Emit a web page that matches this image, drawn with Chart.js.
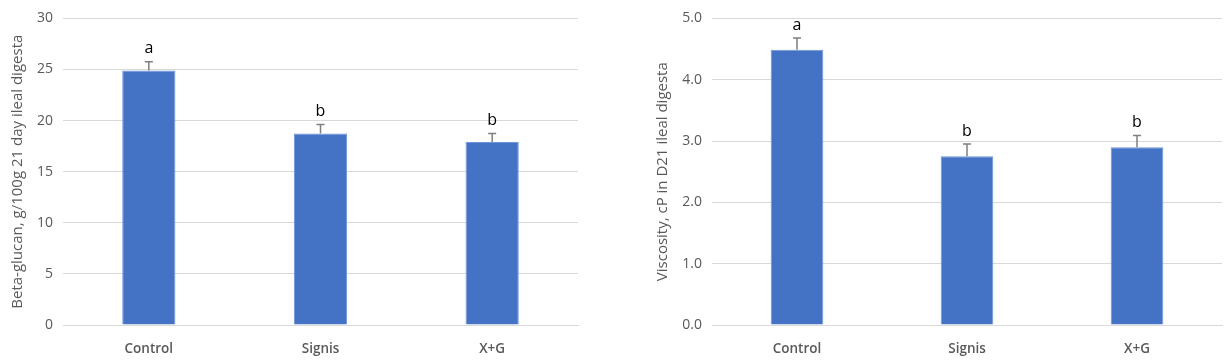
<!DOCTYPE html>
<html>
<head>
<meta charset="utf-8">
<script src="https://cdn.jsdelivr.net/npm/chart.js@4.4.1/dist/chart.umd.min.js"></script>
<style>
  html, body { margin: 0; padding: 0; background: #fff; }
  #wrap { position: relative; width: 1229px; height: 360px; }
  .box { position: absolute; top: 0; height: 360px; }
</style>
</head>
<body>
<div id="wrap">
  <div class="box" style="left:0;width:600px"><canvas id="c1"></canvas></div>
  <div class="box" style="left:600px;width:629px"><canvas id="c2"></canvas></div>
</div>
<script>
const categories = ["Control", "Signis", "X+G"];
const betaGlucan = [24.9, 18.75, 17.9];
const betaGlucanErr = [0.85, 0.87, 0.85];
const betaGlucanLetters = ["a", "b", "b"];
const viscosity = [4.49, 2.75, 2.90];
const viscosityErr = [0.19, 0.20, 0.19];
const viscosityLetters = ["a", "b", "b"];
const betaTitle = "Beta-glucan, g/100g 21 day ileal digesta";
const viscTitle = "Viscosity, cP in D21 ileal digesta";

const FONT = "'Open Sans', 'Liberation Sans', sans-serif";

const errPlugin = {
  id: 'errLetters',
  afterDatasetsDraw(chart, args, opts) {
    const ctx = chart.ctx;
    const meta = chart.getDatasetMeta(0);
    const ys = chart.scales.y;
    ctx.save();
    meta.data.forEach((bar, i) => {
      const v = opts.values[i], e = opts.errors[i];
      const yTop = ys.getPixelForValue(v + e);
      const yBar = ys.getPixelForValue(v);
      const x = bar.x;
      ctx.strokeStyle = '#7f7f7f';
      ctx.lineWidth = 1.5;
      ctx.beginPath();
      ctx.moveTo(x, yBar);
      ctx.lineTo(x, yTop);
      ctx.moveTo(x - 4, yTop);
      ctx.lineTo(x + 4, yTop);
      ctx.stroke();
      ctx.fillStyle = '#000';
      ctx.font = "16px " + FONT;
      ctx.textAlign = 'center';
      ctx.textBaseline = 'bottom';
      ctx.fillText(opts.letters[i], x, yTop - 5);
    });
    ctx.restore();
  }
};

function makeChart(id, values, errors, letters, title, max, step, decimals, yWidth, padRight, titlePad) {
  return new Chart(document.getElementById(id), {
    type: 'bar',
    data: {
      labels: categories,
      datasets: [{
        data: values,
        backgroundColor: '#4472C4',
        borderColor: '#6f95d8',
        borderWidth: 1,
        barPercentage: 0.31,
        categoryPercentage: 1.0
      }]
    },
    plugins: [errPlugin],
    options: {
      responsive: true,
      maintainAspectRatio: false,
      animation: false,
      layout: { padding: { top: 10, right: padRight, bottom: 0, left: 0 } },
      plugins: {
        legend: { display: false },
        tooltip: { enabled: false },
        errLetters: { values, errors, letters }
      },
      scales: {
        x: {
          grid: { display: false },
          border: { display: true, color: '#d9d9d9', width: 1 },
          ticks: { color: '#595959', font: { family: FONT, size: 13.5, weight: '600' }, padding: 8 },
          afterFit(s) { s.height = 35; }
        },
        y: {
          min: 0, max: max,
          grid: { color: '#d9d9d9', lineWidth: 1, drawTicks: false },
          border: { display: false },
          ticks: {
            stepSize: step,
            color: '#595959',
            font: { family: FONT, size: 14 },
            padding: 10,
            callback: v => Number(v).toFixed(decimals)
          },
          title: {
            display: true,
            text: title,
            color: '#595959',
            font: { family: FONT, size: 15 },
            padding: { top: titlePad, bottom: 4 }
          },
          afterFit(s) { s.width = yWidth; }
        }
      }
    }
  });
}

makeChart('c1', betaGlucan, betaGlucanErr, betaGlucanLetters, betaTitle, 30, 5, 0, 63, 22, 9);
makeChart('c2', viscosity, viscosityErr, viscosityLetters, viscTitle, 5, 1, 1, 112, 7, 54);
</script>
</body>
</html>
